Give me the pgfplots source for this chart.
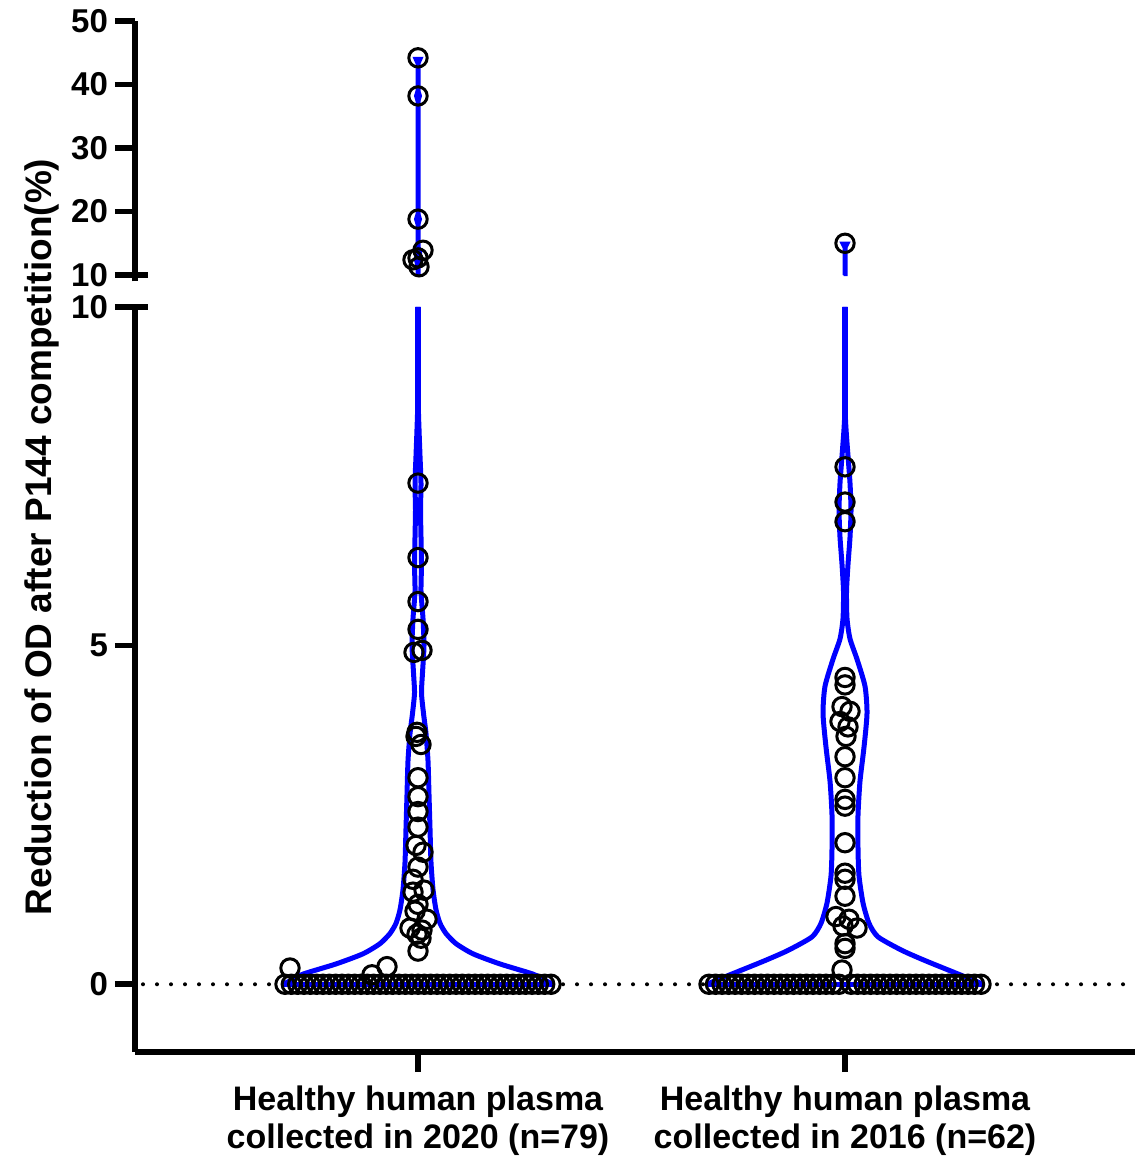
\documentclass[border=0pt]{standalone}
\usepackage{fontspec}
\setmainfont{Liberation Sans}
\usepackage{pgfplots}
\pgfplotsset{compat=1.18}

\pgfplotsset{
  common/.style={
    width=500pt, scale only axis, xmin=0, xmax=1000, clip=false,
    axis line style={line width=2.8pt, black},
    tick style={line width=2.8pt, black},
    major tick length=10pt, tick align=outside,
    yticklabel style={font=\bfseries\fontsize{16.5}{19}\selectfont},
    /pgf/number format/assume math mode=true,
  },
  dots/.style={only marks, mark=o, mark size=4.6pt, black, line width=1.5pt},
  viol/.style={blue, line width=2.5pt, smooth, tension=0.4},
}

\begin{document}
\begin{tikzpicture}
% ---------------- lower segment ----------------
\begin{axis}[common,
  at={(0pt,0pt)}, anchor=south west,
  height=372.5pt, ymin=-1, ymax=10,
  axis x line*=bottom, axis y line*=left,
  xtick={283,710},
  xticklabels={{Healthy human plasma\\collected in 2020 (n=79)},{Healthy human plasma\\collected in 2016 (n=62)}},
  xticklabel style={align=center, yshift=-3.5pt, font=\bfseries\fontsize{17}{19}\selectfont},
  ytick={0,5,10},
]
\addplot[black, line width=2pt, dash pattern=on 0pt off 7pt, line cap=round] coordinates {(8,0) (1000,0)};
% violin 2020 (left edge, right edge, base)
\addplot[viol] coordinates {
(148,0) (155,0.05) (168,0.15) (201,0.3) (228,0.45) (245,0.6) (255,0.75) (261,0.9) (265,1.1) (268,1.4) (270,1.8) (271,2.3) (272,2.8) (273,3.3) (275,3.7) (277.5,4.0) (279.5,4.3) (278.5,4.6) (277,5.0) (278,5.4) (280,5.8) (279.5,6.2) (280,6.6) (280.5,7.0) (280,7.4) (281,7.8) (282,8.2) (282.7,8.6) (282.7,10)};
\addplot[viol] coordinates {
(283.3,10) (283.3,8.6) (284,8.2) (285,7.8) (286,7.4) (285.5,7.0) (286,6.6) (286.5,6.2) (286,5.8) (288,5.4) (289,5.0) (287.5,4.6) (286.5,4.3) (288.5,4.0) (291,3.7) (293,3.3) (294,2.8) (295,2.3) (296,1.8) (298,1.4) (301,1.1) (305,0.9) (311,0.75) (321,0.6) (338,0.45) (365,0.3) (398,0.15) (411,0.05) (418,0)};
\addplot[blue, line width=2.5pt] coordinates {(148,0) (418,0)};
% violin 2016
\addplot[viol] coordinates {
(572,0) (580,0.05) (605,0.2) (630,0.35) (653,0.5) (677,0.7) (686,0.9) (692,1.2) (696,1.6) (697,2.0) (697,2.5) (695,3.0) (691,3.5) (688,4.0) (690,4.4) (698,4.8) (705,5.1) (708,5.4) (708.5,5.8) (707,6.2) (705,6.6) (704,7.0) (705,7.4) (707,7.8) (709,8.2) (709.7,8.5) (709.7,10)};
\addplot[viol] coordinates {
(710.3,10) (710.3,8.5) (711,8.2) (713,7.8) (715,7.4) (716,7.0) (715,6.6) (713,6.2) (711.5,5.8) (712,5.4) (715,5.1) (722,4.8) (730,4.4) (732,4.0) (729,3.5) (725,3.0) (723,2.5) (723,2.0) (724,1.6) (728,1.2) (734,0.9) (743,0.7) (767,0.5) (790,0.35) (815,0.2) (840,0.05) (848,0)};
\addplot[blue, line width=2.5pt] coordinates {(572,0) (848,0)};
% points 2020 (lower segment)
\addplot[dots] coordinates {
(283,7.40) (283,6.30) (283,5.65) (283,5.24) (279,4.90) (287,4.93) (282,3.72) (281,3.66) (286,3.54) (283,3.05) (283,2.77) (283,2.55) (283,2.32) (281,2.05) (288,1.95) (283,1.73) (278,1.55) (278,1.36) (289,1.39) (283,1.18) (280,1.08) (292,0.96) (275,0.83) (287,0.80) (282,0.74) (286,0.68) (283,0.49)
(155,0.24) (237,0.14) (252,0.26)
(150,0) (156.3,0) (162.7,0) (169,0) (175.3,0) (181.7,0) (188,0) (194.3,0) (200.7,0) (207,0) (213.3,0) (219.7,0) (226,0) (232.3,0) (238.7,0) (245,0) (251.3,0) (257.7,0) (264,0) (270.3,0) (276.7,0) (283,0) (289.3,0) (295.7,0) (302,0) (308.3,0) (314.7,0) (321,0) (327.3,0) (333.7,0) (340,0) (346.3,0) (352.7,0) (359,0) (365.3,0) (371.7,0) (378,0) (384.3,0) (390.7,0) (397,0) (403.3,0) (409.7,0) (416,0)};
% points 2016 (lower segment)
\addplot[dots] coordinates {
(710,7.64) (710,7.12) (710,6.83) (710,4.53) (710,4.42) (707,4.10) (715,4.03) (705,3.88) (713,3.80) (711,3.66) (710,3.36) (710,3.05) (710,2.73) (710,2.63) (710,2.09) (710,1.64) (710,1.55) (710,1.30) (701,1.00) (714,0.96) (708,0.86) (722,0.83) (710,0.60) (710,0.53) (707,0.21)
(574,0) (580.5,0) (587,0) (593.5,0) (600,0) (606.5,0) (613,0) (619.5,0) (626,0) (632.5,0) (639,0) (645.5,0) (652,0) (658.5,0) (665,0) (671.5,0) (678,0) (684.5,0) (691,0) (697.5,0) (704,0)
(716,0) (722.5,0) (729,0) (735.5,0) (742,0) (748.5,0) (755,0) (761.5,0) (768,0) (774.5,0) (781,0) (787.5,0) (794,0) (800.5,0) (807,0) (813.5,0) (820,0) (826.5,0) (833,0) (839.5,0) (846,0)};
\draw[line width=2.8pt] (axis cs:0,10) -- ([xshift=6.5pt]axis cs:0,10);
\end{axis}
% ---------------- upper segment ----------------
\begin{axis}[common,
  at={(0pt,385.3pt)}, anchor=south west,
  height=130.2pt, ymin=9, ymax=50,
  axis x line=none, axis y line*=left,
  ytick={10,20,30,40,50},
]
\addplot[fill=blue, draw=blue, line width=1pt] coordinates {
(281.5,10) (281.5,11.5) (280,12.3) (280,13.7) (281.5,14.5) (281.5,18) (280,18.8) (281.5,19.6) (281.5,37.4) (280,38.2) (281.5,39) (281.5,43.3) (279,44.2)
(287,44.2) (284.5,43.3) (284.5,39) (286,38.2) (284.5,37.4) (284.5,19.6) (286,18.8) (284.5,18) (284.5,14.5) (286,13.7) (286,12.3) (284.5,11.5) (284.5,10) (281.5,10)};
\addplot[fill=blue, draw=blue, line width=1pt] coordinates {
(708.5,10) (708.5,14.3) (706,15.1) (714,15.1) (711.5,14.3) (711.5,10) (708.5,10)};
\addplot[dots] coordinates {(283,44.2) (283,38.2) (283,18.8) (288,13.9) (278,12.4) (283,12.7) (284,11.3)};
\addplot[dots] coordinates {(710,15.0)};
\draw[line width=2.8pt] (axis cs:0,10) -- ([xshift=6.5pt]axis cs:0,10);
\end{axis}
\node[rotate=90, font=\bfseries\fontsize{18.5}{22}\selectfont] at (-46.5pt,257.5pt) {Reduction of OD after P144 competition(\%)};
\pgfresetboundingbox
\path[use as bounding box] (-67.5pt,-53.5pt) rectangle (505.5pt,526pt);
\end{tikzpicture}
\end{document}
